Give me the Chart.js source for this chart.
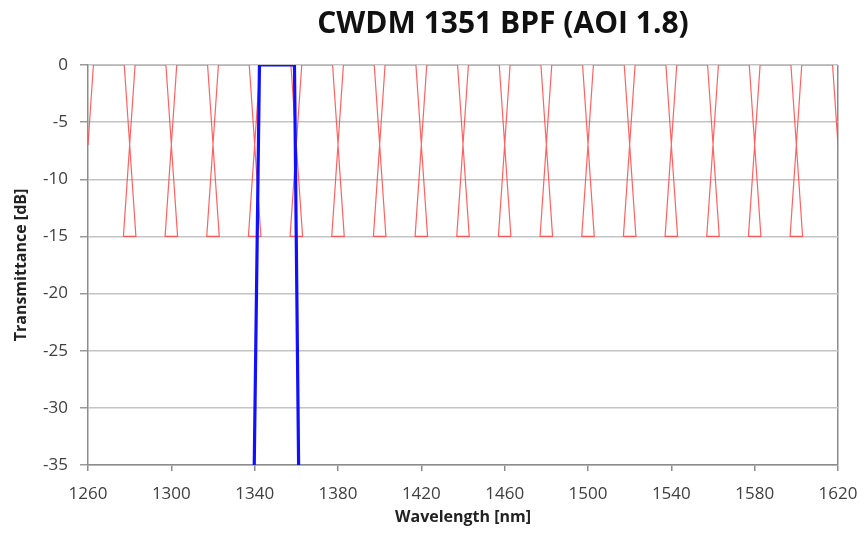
<!DOCTYPE html>
<html>
<head>
<meta charset="utf-8">
<script src="https://cdn.jsdelivr.net/npm/chart.js@4/dist/chart.umd.min.js"></script>
<style>
  html, body { margin: 0; padding: 0; background: #ffffff; }
  #wrap { position: relative; width: 865px; height: 537px; }
  #title {
    position: absolute; left: 253px; width: 500px; top: 1px;
    text-align: center; font-family: "Open Sans", sans-serif; font-weight: 700;
    font-size: 30px; color: #111; white-space: nowrap;
  }
  canvas { position: absolute; left: 0; top: 0; }
</style>
</head>
<body>
<div id="wrap">
  <canvas id="c" width="865" height="537"></canvas>
  <div id="title">CWDM 1351 BPF (AOI 1.8)</div>
</div>
<script>
// Red CWDM isolation mask (hourglass pattern between channels)
const maskX = [
  1260, 1262.6,
  1277.4, 1283, 1277, 1282.6,
  1297.4, 1303, 1297, 1302.6,
  1317.4, 1323, 1317, 1322.6,
  1337.4, 1343, 1337, 1342.6,
  1357.4, 1363, 1357, 1362.6,
  1377.4, 1383, 1377, 1382.6,
  1397.4, 1403, 1397, 1402.6,
  1417.4, 1423, 1417, 1422.6,
  1437.4, 1443, 1437, 1442.6,
  1457.4, 1463, 1457, 1462.6,
  1477.4, 1483, 1477, 1482.6,
  1497.4, 1503, 1497, 1502.6,
  1517.4, 1523, 1517, 1522.6,
  1537.4, 1543, 1537, 1542.6,
  1557.4, 1563, 1557, 1562.6,
  1577.4, 1583, 1577, 1582.6,
  1597.4, 1603, 1597, 1602.6,
  1617.4, 1620
];
const maskY = [
  -7, 0,
  0, -15, -15, 0,
  0, -15, -15, 0,
  0, -15, -15, 0,
  0, -15, -15, 0,
  0, -15, -15, 0,
  0, -15, -15, 0,
  0, -15, -15, 0,
  0, -15, -15, 0,
  0, -15, -15, 0,
  0, -15, -15, 0,
  0, -15, -15, 0,
  0, -15, -15, 0,
  0, -15, -15, 0,
  0, -15, -15, 0,
  0, -15, -15, 0,
  0, -15, -15, 0,
  0, -15, -15, 0,
  0, -7
];
// Blue 1351 nm band-pass filter transmittance
const bpfX = [1339.8, 1342.3, 1359.1, 1361.1];
const bpfY = [-35, 0, 0, -35];

const xTicks = [1260, 1300, 1340, 1380, 1420, 1460, 1500, 1540, 1580, 1620];
const yTicks = [0, -5, -10, -15, -20, -25, -30, -35];

const toPts = (xs, ys) => xs.map((x, i) => ({ x: x, y: ys[i] }));

const tickFont = { family: "'Open Sans', sans-serif", size: 17 };
const titleFont = { family: "'Open Sans', sans-serif", size: 16, weight: 'bold' };

new Chart(document.getElementById('c'), {
  type: 'scatter',
  data: {
    datasets: [
      {
        label: 'Mask',
        data: toPts(maskX, maskY),
        showLine: true,
        borderColor: 'rgba(255,70,70,0.85)',
        borderWidth: 1.2,
        pointRadius: 0,
        tension: 0,
        order: 2
      },
      {
        label: 'BPF',
        data: toPts(bpfX, bpfY),
        showLine: true,
        borderColor: '#1010ff',
        borderWidth: 3.2,
        pointRadius: 0,
        tension: 0,
        order: 1
      }
    ]
  },
  options: {
    responsive: false,
    animation: false,
    layout: { padding: { top: 65, right: 27, left: 0, bottom: 0 } },
    plugins: { legend: { display: false }, tooltip: { enabled: false }, title: { display: false } },
    scales: {
      x: {
        type: 'linear',
        min: 1260, max: 1620,
        afterBuildTicks: (s) => { s.ticks = xTicks.map(v => ({ value: v })); },
        afterFit: (s) => { s.height = 72; s.paddingLeft = 0; s.paddingRight = 0; },
        ticks: { font: tickFont, color: '#404040', padding: 13, maxRotation: 0, callback: (v) => String(v) },
        grid: {
          color: (ctx) => (ctx.tick && ctx.tick.value === 1620) ? '#8c8c8c' : 'rgba(0,0,0,0)',
          lineWidth: 1.5,
          tickColor: '#8c8c8c',
          tickLength: 6
        },
        border: { color: '#8c8c8c', width: 1.5 },
        title: { display: true, text: 'Wavelength [nm]', font: titleFont, color: '#222', padding: { top: 4, bottom: 10 } }
      },
      y: {
        type: 'linear',
        min: -35, max: 0,
        afterBuildTicks: (s) => { s.ticks = yTicks.map(v => ({ value: v })); },
        afterFit: (s) => { s.width = 88; s.paddingTop = 0; s.paddingBottom = 0; },
        ticks: { font: tickFont, color: '#404040', padding: 12, callback: (v) => String(v) },
        grid: { color: '#c4c4c4', lineWidth: 1.5, tickColor: '#9a9a9a', tickLength: 8 },
        border: { color: '#8c8c8c', width: 1.5 },
        title: { display: true, text: 'Transmittance [dB]', font: titleFont, color: '#222', padding: { top: 12, bottom: 0 } }
      }
    }
  }
});
</script>
</body>
</html>
